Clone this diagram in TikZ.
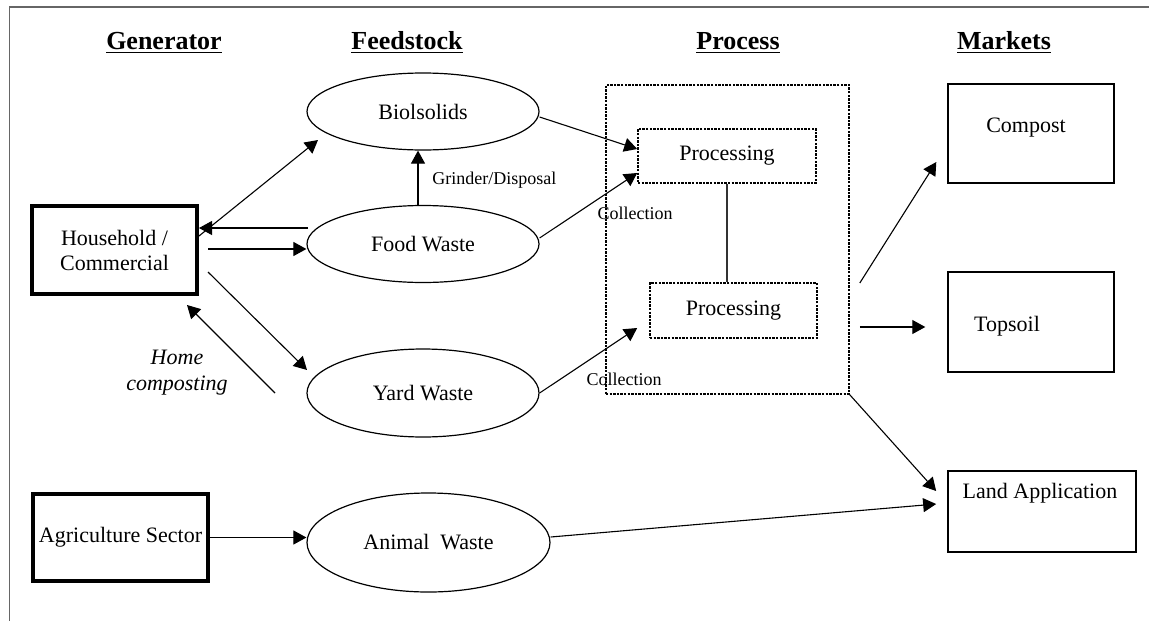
\documentclass[tikz,border=0pt]{standalone}
\usepackage{fontspec}
\setmainfont{Liberation Serif}
\usetikzlibrary{arrows.meta,shapes.geometric}
\begin{document}
\begin{tikzpicture}[x=0.5pt,y=-0.5pt,
  every node/.style={font=\fontsize{11}{12.5}\selectfont, inner sep=0pt},
  title/.style={font=\fontsize{13}{15}\selectfont\bfseries, anchor=base},
  heavybox/.style={draw, line width=2pt, align=center},
  marketbox/.style={draw, line width=0.7pt},
  feed/.style={draw, ellipse, line width=0.6pt},
  procbox/.style={draw, line width=0.8pt, dash pattern=on 1.2pt off 0.6pt},
  smalllabel/.style={font=\fontsize{9}{10}\selectfont},
  flow/.style={line width=0.55pt, -{Triangle[length=6.5pt,width=7pt]}},
  link/.style={line width=0.55pt, black!80},
  frame/.style={line width=0.75pt, black!60},
]
\useasboundingbox (0,0) rectangle (1149,621);

% page frame (top and left edges)
\draw[frame] (1149,7) -- (9.5,7) -- (9.5,621);

% column headings
\node[title] (hgen)  at (164,49.5)  {\underline{Generator}};
\node[title] (hfeed) at (407,49.5)  {\underline{Feedstock}};
\node[title] (hproc) at (738,49.5)  {\underline{Process}};
\node[title] (hmark) at (1004,49.5) {\underline{Markets}};

% generators
\node[heavybox, minimum width=82.5pt, minimum height=44pt] (household) at (114.5,250) {Household /\\Commercial};
\node[heavybox, minimum width=87.5pt, minimum height=43.5pt] (agri) at (120.5,537.5) {Agriculture Sector};

% feedstocks
\node[feed, minimum width=116pt, minimum height=38.5pt] (bio)    at (423,111.5) {Biolsolids};
\node[feed, minimum width=116pt, minimum height=38.5pt] (food)   at (423,244)   {Food Waste};
\node[feed, minimum width=116pt, minimum height=44pt]   (yard)   at (423,393)   {Yard Waste};
\node[feed, minimum width=121.5pt, minimum height=49.5pt] (animal) at (428.5,542.5) {Animal\ \ Waste};

% process
\node[procbox, minimum width=121.5pt, minimum height=154.5pt] (processarea) at (727.5,239.5) {};
\node[procbox, minimum width=89pt, minimum height=27pt] (proc1) at (727,156) {Processing};
\node[procbox, minimum width=83.5pt, minimum height=27.5pt] (proc2) at (733.5,310.5) {Processing};

% markets
\node[marketbox, minimum width=83pt, minimum height=49.5pt] (compost) at (1031,133.5) {};
\node (compostlabel) at (1026,128) {Compost};
\node[marketbox, minimum width=83pt, minimum height=50pt] (topsoil) at (1031,322) {};
\node (topsoillabel) at (1007,326) {Topsoil};
\node[marketbox, line width=0.85pt, minimum width=94pt, minimum height=40.5pt] (land) at (1042,511.5) {};
\node (landlabel) at (1040,493) {Land Application};

% flow labels
\node[smalllabel, anchor=west] (grinder) at (432,180) {Grinder/Disposal};
\node[smalllabel] (collect1) at (635,213) {Collection};
\node[smalllabel] (collect2) at (624,379) {Collection};
\node[align=center, font=\fontsize{11}{13}\selectfont\itshape] (homecomp) at (177,373) {Home\\composting};

% generator <-> feedstock
\draw[flow] ([yshift=7pt]household.east) -- ([shift={(-105,28.5)}]bio.center);
\draw[flow] ([shift={(-115,-16)}]food.center) -- ([yshift=11pt]household.east);
\draw[flow] ([xshift=4.5pt,yshift=0.5pt]household.east) -- ([yshift=-2.5pt]food.west);
\draw[flow] ([xshift=-2.5pt]food.north) -- ([xshift=-2.5pt]bio.south);
\draw[flow] ([shift={(9,22)}]household.east) -- ([shift={(-116,-23)}]yard.center);
\coordinate (hcfoot) at (275,393);
\draw[flow] (hcfoot) -- ([shift={(72.5,55)}]household.center);
\draw[flow] (agri.east) -- (agri.east -| animal.west);

% feedstock -> process
\draw[flow] ([yshift=-2.75pt]bio.east) -- ([yshift=3.5pt]proc1.west);
\draw[flow] ([yshift=3pt]food.east) -- ([yshift=-8.5pt]proc1.west);
\draw[flow] (yard.east) -- ([shift={(-12,17.5)}]proc2.west);
\draw[link] (proc1.south) -- ([xshift=-3.25pt]proc2.north);

% process -> markets
\draw[flow] ([shift={(10,43.5)}]processarea.east) -- ([shift={(-11,28.5)}]compost.west);
\draw[flow] ([shift={(10,87.5)}]processarea.east) -- ([shift={(-22,5)}]topsoil.west);
\draw[flow] (processarea.south east) -- ([shift={(-11,-20.5)}]land.west);
\draw[flow] ([yshift=2.75pt]animal.east) -- ([shift={(-11,-7.5)}]land.west);
\end{tikzpicture}
\end{document}
